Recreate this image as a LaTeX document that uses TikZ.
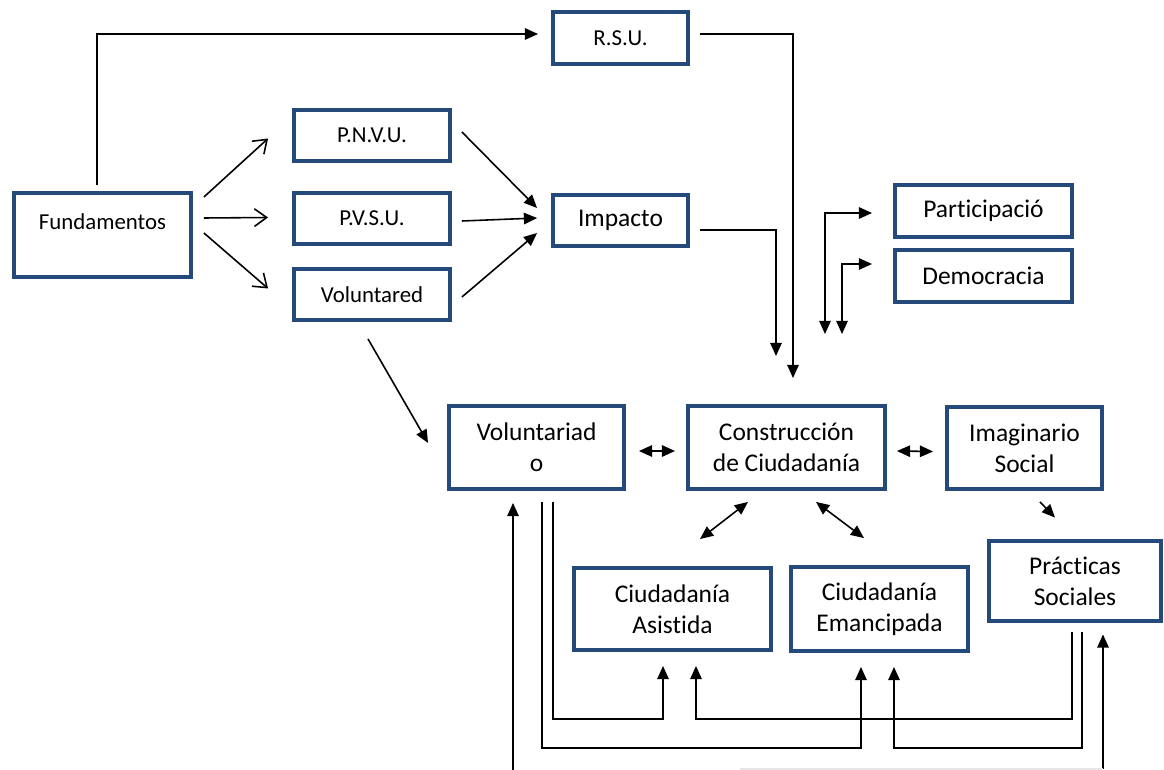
\documentclass[tikz,border=0pt]{standalone}
\usepackage{fontspec}
\setmainfont{Carlito}[Ligatures=CommonOff]
\usetikzlibrary{arrows.meta,calc}

\definecolor{boxblue}{RGB}{36,74,124}

\tikzset{
  box/.style={draw=boxblue, line width=2.5pt, shape=rectangle, inner sep=0pt, align=center},
  smalltxt/.style={font=\fontsize{13}{15.5}\selectfont},
  bigtxt/.style={font=\fontsize{14.5}{17.5}\selectfont},
  conn/.style={line width=0.9pt},
  arr/.style={conn, -{Triangle[length=7.5pt,width=6.5pt]}},
  dbl/.style={conn, {Triangle[length=7.5pt,width=6.5pt]}-{Triangle[length=7.5pt,width=6.5pt]}},
  open/.style={conn, -{Straight Barb[length=7pt,width=10pt]}}
}

\begin{document}
\begin{tikzpicture}[x=0.02cm,y=-0.02cm]
   \useasboundingbox (0,0) rectangle (1164,770);

   \path (102.5,235) node[box,smalltxt,minimum width=3.53cm,minimum height=1.67cm] (fund) {Fundamentos\\ \mbox{}};
   \path (620.5,38) node[box,smalltxt,minimum width=2.69cm,minimum height=1.03cm] (rsu) {R.S.U.};
   \path (372,135.5) node[box,smalltxt,minimum width=3.11cm,minimum height=1.01cm] (pnvu) {P.N.V.U.};
   \path (372,218.5) node[box,smalltxt,minimum width=3.11cm,minimum height=1.01cm] (pvsu) {P.V.S.U.};
   \path (372,294.5) node[box,smalltxt,minimum width=3.11cm,minimum height=1.01cm] (volred) {Voluntared};
   \path (620.5,220.5) node[box,bigtxt,minimum width=2.69cm,minimum height=1.01cm] (impacto) {Impacto};
   \path (983.5,211) node[box,bigtxt,minimum width=3.53cm,minimum height=1.03cm] (part) {Participació};
   \path (983.5,276) node[box,bigtxt,minimum width=3.53cm,minimum height=1.03cm] (demo) {Democracia};
   \path (536.5,447.5) node[box,bigtxt,minimum width=3.49cm,minimum height=1.65cm] (volado) {Voluntariad\\o};
   \path (786.5,447.5) node[box,bigtxt,minimum width=3.93cm,minimum height=1.65cm] (cons) {Construcción\\de Ciudadanía};
   \path (1024.5,448) node[box,bigtxt,minimum width=3.09cm,minimum height=1.63cm] (imag) {Imaginario\\Social};
   \path (1075,581) node[box,bigtxt,minimum width=3.43cm,minimum height=1.61cm] (prac) {Prácticas\\Sociales};
   \path (672.5,609) node[box,bigtxt,minimum width=3.93cm,minimum height=1.63cm] (asis) {Ciudadanía\\Asistida};
   \path (879.5,609) node[box,bigtxt,minimum width=3.53cm,minimum height=1.67cm] (eman) {Ciudadanía\\Emancipada};

   \coordinate (botv) at (513,770);
   \coordinate (botl) at (740,769);
   \coordinate (botr) at (1103,769);

   \draw[arr] ($(fund.north)+(-5.5,-6)$) |- ($(rsu.west)+(-13,-4)$);
   \draw[open] ($(fund.east)+(11,-38)$) -- ($(pnvu.west)+(-24,3)$);
   \draw[open] ($(fund.east)+(11,-17)$) -- ($(pvsu.west)+(-24,-1)$);
   \draw[open] ($(fund.east)+(11,-2)$) -- ($(volred.west)+(-24,-6)$);

   \draw[arr] ($(pnvu.east)+(10,-3.5)$) -- ($(impacto.west)+(-14,-12.5)$);
   \draw[arr] ($(pvsu.east)+(10,2.5)$) -- ($(impacto.west)+(-14,-2.5)$);
   \draw[arr] ($(volred.east)+(10,2.5)$) -- ($(impacto.west)+(-14,12.5)$);

   \draw[arr] ($(rsu.east)+(10,-4)$) -| ($(cons.north)+(6.5,-26)$);
   \draw[arr] ($(impacto.east)+(10,9.5)$) -| ($(cons.north)+(-10.5,-48)$);
   \draw[dbl] ($(part.west)+(-21,2)$) -| ($(cons.north)+(38.5,-70)$);
   \draw[dbl] ($(demo.west)+(-21,-12)$) -| ($(cons.north)+(55.5,-70)$);

   \draw[arr] ($(volred.south)+(-4,17)$) -- ($(volado.west)+(-19,-4.5)$);
   \draw[dbl] ($(volado.east)+(13,3.5)$) -- ($(cons.west)+(-11,3.5)$);
   \draw[dbl] ($(cons.east)+(10,3.5)$) -- ($(imag.west)+(-12,3.5)$);
   \draw[dbl] ($(cons.south)+(-38.5,11)$) -- ($(asis.north)+(27.5,-27)$);
   \draw[dbl] ($(cons.south)+(29.5,11)$) -- ($(eman.north)+(-15.5,-27)$);
   \draw[arr] ($(imag.south)+(15.5,11)$) -- ($(prac.north)+(-20,-21)$);

   \draw[arr] ($(volado.south)+(16.5,11)$) |- ($(asis.south)+(-9.5,67)$) -- ($(asis.south)+(-9.5,14)$);
   \draw[arr] ($(volado.south)+(5.5,11)$) |- ($(eman.south)+(-18.5,95)$) -- ($(eman.south)+(-18.5,14)$);
   \draw[arr] ($(prac.south)+(-3,9)$) |- ($(asis.south)+(23.5,67)$) -- ($(asis.south)+(23.5,14)$);
   \draw[arr] ($(prac.south)+(7,9)$) |- ($(eman.south)+(14.5,95)$) -- ($(eman.south)+(14.5,14)$);
   \draw[arr] (botr) -- ($(prac.south)+(28,11)$);
   \draw[conn,gray!20] (botl) -- (botr);
   \draw[arr] (botv) -- ($(volado.south)+(-23.5,12)$);
\end{tikzpicture}
\end{document}
